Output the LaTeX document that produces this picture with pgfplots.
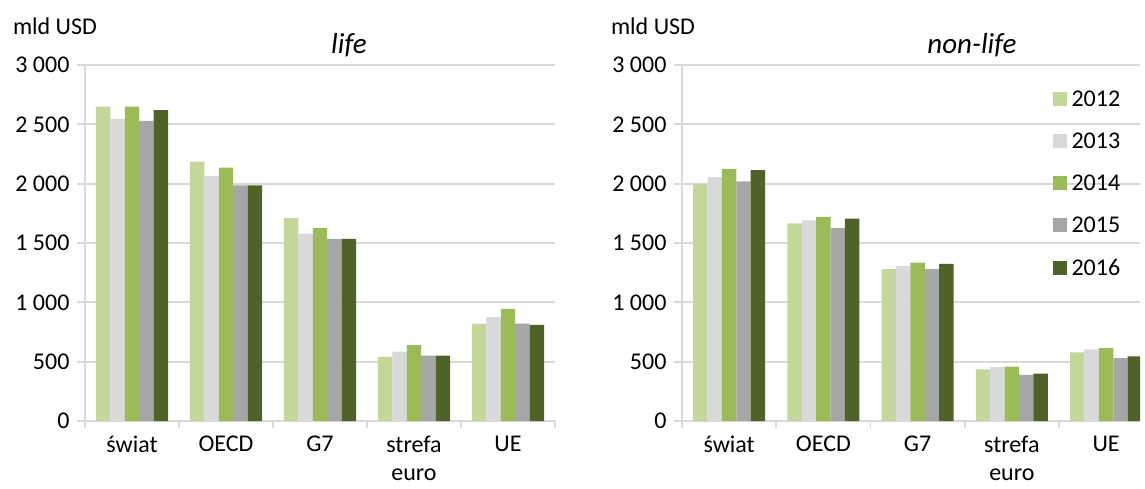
\documentclass[border=0pt]{standalone}
\usepackage{fontspec}
\setmainfont{Carlito}
\usepackage{pgfplots}
\usepackage{pgfplotstable}
\pgfplotsset{compat=1.18}

\definecolor{cA}{HTML}{C4D79B}
\definecolor{cB}{HTML}{D9D9D9}
\definecolor{cC}{HTML}{9BBB59}
\definecolor{cD}{HTML}{A6A6A6}
\definecolor{cE}{HTML}{4F6228}
\definecolor{gridc}{HTML}{D9D9D9}

% life
\pgfplotstableread{
x  a    b    c    d    e
0  2650 2545 2650 2530 2620
1  2185 2065 2135 1985 1985
2  1710 1580 1625 1535 1535
3  540  585  640  550  552
4  820  875  945  820  810
}\lifedata
% non-life
\pgfplotstableread{
x  a    b    c    d    e
0  2000 2055 2125 2020 2115
1  1665 1690 1720 1625 1705
2  1280 1305 1335 1280 1325
3  435  455  458  388  400
4  578  603  614  530  545
}\nonlifedata

\pgfplotsset{
  panel/.style={
    scale only axis,
    height=356pt,
    ybar=0pt, bar width=14.4pt,
    ymin=0, ymax=3000,
    ytick={0,500,...,3000},
    yticklabels={0,500,1 000,1 500,2 000,2 500,3 000},
    xmin=-0.5,
    xtick={0,...,4},
    xticklabels={świat,OECD,G7,strefa\\euro,UE},
    minor xtick={-0.5,0.5,1.5,2.5,3.5,4.5},
    major x tick style={draw=none},
    minor x tick style={draw=gridc, line width=1.8pt},
    ytick style={draw=gridc, line width=1.8pt},
    tick align=outside,
    major tick length=8pt, minor tick length=7pt,
    axis lines*=left,
    axis line style={draw=gridc, line width=1.8pt},
    ymajorgrids,
    major grid style={draw=gridc, line width=1.8pt},
    font=\fontsize{24}{28}\selectfont,
    xticklabel style={align=center, yshift=-6pt, inner ysep=1pt},
    yticklabel style={xshift=-4pt},
    legend image code/.code={\fill[##1] (0pt,-7pt) rectangle (14pt,7pt);},
  },
}

\begin{document}
\begin{tikzpicture}
\path[use as bounding box] (0pt,0pt) rectangle (1145pt,-489pt);

\begin{axis}[panel, at={(85pt,-421pt)}, anchor=south west,
  width=470pt, xmax=4.5]
\addplot[fill=cA, draw=none] table[x=x, y=a] {\lifedata};
\addplot[fill=cB, draw=none] table[x=x, y=b] {\lifedata};
\addplot[fill=cC, draw=none] table[x=x, y=c] {\lifedata};
\addplot[fill=cD, draw=none] table[x=x, y=d] {\lifedata};
\addplot[fill=cE, draw=none] table[x=x, y=e] {\lifedata};
\end{axis}

\begin{axis}[panel, at={(682pt,-421pt)}, anchor=south west,
  width=458pt, xmax=4.36,
  legend cell align=left,
  legend style={draw=none, fill=none, at={(axis description cs:0.802,0.94)},
    anchor=north west, row sep=21pt,
    nodes={inner xsep=5pt},
    font=\fontsize{24}{29}\selectfont},
]
\addplot[fill=cA, draw=none] table[x=x, y=a] {\nonlifedata};
\addplot[fill=cB, draw=none] table[x=x, y=b] {\nonlifedata};
\addplot[fill=cC, draw=none] table[x=x, y=c] {\nonlifedata};
\addplot[fill=cD, draw=none] table[x=x, y=d] {\nonlifedata};
\addplot[fill=cE, draw=none] table[x=x, y=e] {\nonlifedata};
\legend{2012,2013,2014,2015,2016}
\end{axis}

\node[font=\fontsize{24}{29}\selectfont] at (55pt,-26pt) {mld USD};
\node[font=\fontsize{24}{29}\selectfont] at (653pt,-26pt) {mld USD};
\node[font=\fontsize{29}{34}\selectfont\itshape] at (349pt,-45pt) {life};
\node[font=\fontsize{29}{34}\selectfont\itshape] at (972pt,-45pt) {non-life};
\end{tikzpicture}
\end{document}
